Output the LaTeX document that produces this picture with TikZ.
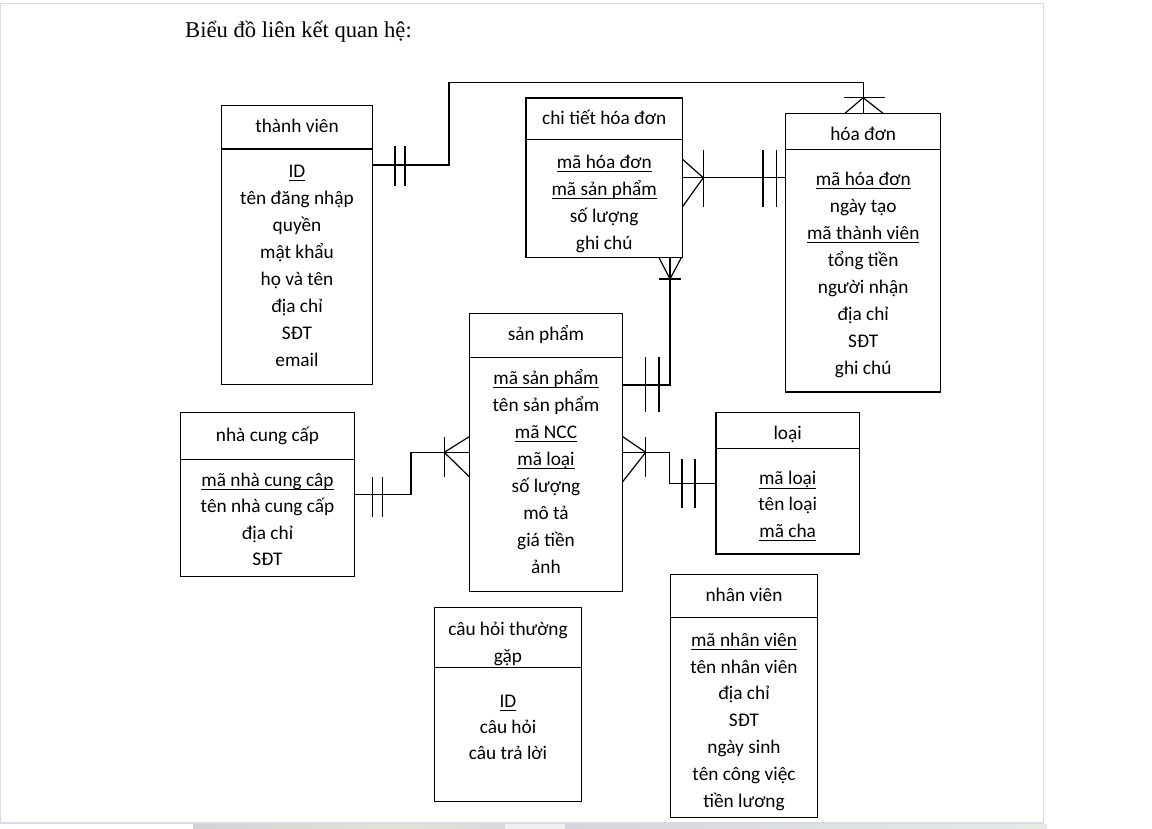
\documentclass[tikz,border=0pt]{standalone}
\usepackage{fontspec}
\setmainfont{Carlito}
\newfontfamily\titlefont{Liberation Serif}
\usetikzlibrary{calc}
\definecolor{framegray}{RGB}{220,218,230}
\newcommand\keyu[1]{{\setbox0\hbox{#1}\rlap{\rule[-3.8pt]{\wd0}{1pt}}\box0}}
\tikzset{
  ent/.style={draw, line width=1.2pt, inner sep=0pt, outer sep=0pt, anchor=north west},
  txt/.style={anchor=base, inner sep=0pt, font=\fontsize{19.3}{23}\selectfont},
  conn/.style={line width=1.2pt},
  pageline/.style={draw=framegray, line width=1.2pt},
}
% name, left, right, top, divider, bottom
\newcommand\mkent[6]{%
  \node[ent, minimum width={#3-#2}, minimum height={#5-#4}] (#1h) at (#2,#4) {};
  \node[ent, minimum width={#3-#2}, minimum height={#6-#5}] (#1b) at (#2,#5) {};
}
% name, center x, first y, spacing, list
\newcommand\mkrows[5]{%
  \foreach \t [count=\i] in {#5} {
    \node[txt] (#1r\i) at (#2, {#3+7+(\i-1)*#4}) {\t};
  }
}
\begin{document}
\begin{tikzpicture}[x=1pt,y=-1pt]
\useasboundingbox (0,0) rectangle (1152,828);
\fill[white] (0,0) rectangle (1152,828);
% page frame
\draw[pageline] (0.6,3.3) -- (1043.3,3.3) -- (1043.3,823) -- (0.6,823) -- cycle;
\shade[left color=gray!35, right color=yellow!12!gray!25] (193,824) rectangle (400,828.5);
\shade[left color=yellow!12!gray!25, right color=gray!30] (400,824) rectangle (505,828.5);
\fill[gray!12] (505,824) rectangle (565,828.5);
\shade[left color=blue!10!gray!30, right color=green!12!gray!18] (565,824) rectangle (1047,828.5);

\node[anchor=base west, inner sep=0pt, font=\titlefont\fontsize{22.6}{26}\selectfont] (title) at (185,37) {Biểu đồ liên kết quan hệ:};

% entities
\mkent{tv}{221.7}{372.3}{105.7}{149}{384.3}
\mkent{cthd}{526}{682.5}{98}{139.3}{257.7}
\mkent{hd}{785.7}{940.7}{113.3}{149.7}{392}
\mkent{sp}{469.2}{622.7}{313.3}{357.3}{591.7}
\mkent{ncc}{180.7}{354.3}{412.7}{459.3}{576.7}
\mkent{loai}{716}{859.3}{412.7}{448.3}{554}
\mkent{chtg}{434.3}{581.7}{607.7}{667.3}{801.7}
\mkent{nv}{670.7}{817.3}{574.3}{617.3}{817.3}

% headers
\node[txt] (tvt) at (297,132) {thành viên};
\node[txt] (cthdt) at (604.2,124) {chi tiết hóa đơn};
\node[txt] (hdt) at (863.2,140.3) {hóa đơn};
\node[txt] (spt) at (546,340) {sản phẩm};
\node[txt] (ncct) at (267.5,441) {nhà cung cấp};
\node[txt] (loait) at (787.7,439) {loại};
\node[txt] (chtgt) at (508,635.3) {câu hỏi thường};
\node[txt] (chtgt2) at (508,662) {gặp};
\node[txt] (nvt) at (744,601.3) {nhân viên};

% rows
\mkrows{tv}{297}{170.3}{27}{\keyu{ID}, tên đăng nhập, quyền, mật khẩu, họ và tên, địa chỉ, SĐT, email}
\mkrows{cthd}{604.2}{161}{27}{\keyu{mã hóa đơn}, \keyu{mã sản phẩm}, số lượng, ghi chú}
\mkrows{hd}{863.2}{178}{27}{\keyu{mã hóa đơn}, ngày tạo, \keyu{mã thành viên}, tổng tiền, người nhận, địa chỉ, SĐT, ghi chú}
\mkrows{sp}{546}{377}{27}{\keyu{mã sản phẩm}, tên sản phẩm, \keyu{mã NCC}, \keyu{mã loại}, số lượng, mô tả, giá tiền, ảnh}
\mkrows{ncc}{267.5}{479}{26.5}{\keyu{mã nhà cung câp}, tên nhà cung cấp, địa chỉ, SĐT}
\mkrows{loai}{787.7}{477.7}{26.2}{\keyu{mã loại}, tên loại, \keyu{mã cha}}
\mkrows{chtg}{508}{700}{26.3}{\keyu{ID}, câu hỏi, câu trả lời}
\mkrows{nv}{744}{639.3}{26.8}{\keyu{mã nhân viên}, tên nhân viên, địa chỉ, SĐT, ngày sinh, tên công việc, tiền lương}

% thành viên -- hóa đơn
\draw[conn] (tvb.east |- 0,165) -| (449,82.7) -| (hdh.north);
\draw[conn] (395,146) -- (395,186) (405,146) -- (405,186);
\draw[conn] (844.3,97.7) -- (884.5,97.7);
\draw[conn] (845,113.3) -- (863.2,97.7) -- (883,113.3);

% chi tiết hóa đơn -- hóa đơn
\draw[conn] (cthdb.east |- 0,177.7) -- (hdb.west |- 0,177.7);
\draw[conn] (cthdb.east |- 0,159.3) -- (703.3,177.7) -- (cthdb.east |- 0,206.7);
\draw[conn] (703.3,150) -- (703.3,206.7);
\draw[conn] (763,150) -- (763,206.7) (776.3,150) -- (776.3,206.7);

% chi tiết hóa đơn -- sản phẩm
\draw[conn] (cthdb.south -| 670,0) |- (spb.east |- 0,385);
\draw[conn] (659,257.7) -- (670,279) -- (681.3,257.7);
\draw[conn] (659,279) -- (681.3,279);
\draw[conn] (645.7,357.3) -- (645.7,411.7) (659,357.3) -- (659,411.7);

% sản phẩm -- nhà cung cấp
\draw[conn] (spb.west |- 0,452.3) -| (411,473) |- (nccb.east |- 0,494.3);
\draw[conn] (spb.west |- 0,436.7) -- (444.3,452.3) -- (spb.west |- 0,476.7);
\draw[conn] (444.3,436.7) -- (444.3,476.7);
\draw[conn] (372.7,477.3) -- (372.7,517.3) (382.7,477.3) -- (382.7,517.3);

% sản phẩm -- loại
\draw[conn] (spb.east |- 0,452.3) -| (669.3,470) |- (loaib.west |- 0,483.3);
\draw[conn] (spb.east |- 0,436.7) -- (645.7,452.3) -- (spb.east |- 0,481.7);
\draw[conn] (645.7,437.3) -- (645.7,476.7);
\draw[conn] (682,459.3) -- (682,508.3) (695,459.3) -- (695,508.3);
\end{tikzpicture}
\end{document}
